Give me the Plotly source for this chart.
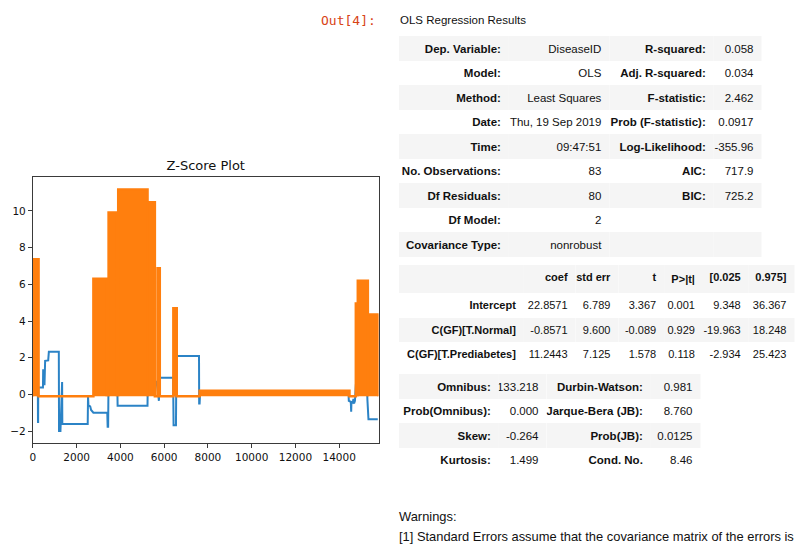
import plotly.graph_objects as go

W, H = 795, 549

# ---------------- Z-score series ----------------
x_ticks = [0, 2000, 4000, 6000, 8000, 10000, 12000, 14000]
x_tick_labels = ["0", "2000", "4000", "6000", "8000", "10000", "12000", "14000"]
y_ticks = [-2, 0, 2, 4, 6, 8, 10]
y_tick_labels = ["\u22122", "0", "2", "4", "6", "8", "10"]

# first z-score series (step trace)
blue_x = [0, 228, 232, 240, 245, 460, 470, 520, 530, 545, 560, 700, 730, 1185,
          1195, 1260, 1336, 1345, 2506, 2520, 2540, 2620, 2660, 2765, 3400,
          3417, 3440, 3455, 3860, 3872, 5239, 5250, 5560, 5575, 5650, 5700,
          5740, 5760, 5800, 6409, 6430, 6540, 6560, 7593, 7600, 7620, 7640,
          14427, 14440, 14530, 14548, 14560, 14620, 14650, 14680, 14720, 14760,
          15270, 15290, 15338, 15763]
blue_y = [0.5, -0.1, -1.5, -1.5, 0.38, 0.38, 1.32, 1.32, 0.5, 1.32, 1.83, 1.85,
          2.32, 2.32, -2.0, -2.0, 0.67, -1.62, -1.62, -0.1, -0.6, -0.65, -0.85,
          -1.0, -1.0, -1.77, -1.77, 0.5, 0.5, -0.62, -0.62, 0.5, 0.5, 0.69, 0.69,
          0.3, -0.35, -0.35, 0.91, 0.91, -1.68, -1.68, 2.09, 2.09, -0.49, -0.49,
          0.0, 0.0, -0.35, -0.4, -0.95, -0.4, -0.45, -0.25, -0.5, -0.35, 0.5,
          0.5, -0.3, -1.36, -1.36]

# second z-score series: level blocks above a common baseline
orange_baseline = -0.1
orange_start = [0, 2765, 3370, 3460, 3840, 3900, 5240, 5700, 6420, 7620, 14760, 14850, 15310]
orange_end = [260, 3370, 3460, 3840, 3900, 5240, 5575, 5800, 6575, 14470, 14850, 15310, 15790]
orange_level = [7.37, 6.30, 6.10, 9.92, 9.80, 11.17, 10.48, 6.87, 4.69, 0.20, 4.96, 6.19, 4.36]
x_last = 15790

# ---------------- OLS summary tables ----------------
model_labels = ["Dep. Variable:", "Model:", "Method:", "Date:", "Time:",
                "No. Observations:", "Df Residuals:", "Df Model:", "Covariance Type:"]
model_values = ["DiseaseID", "OLS", "Least Squares", "Thu, 19 Sep 2019", "09:47:51",
                "83", "80", "2", "nonrobust"]
fit_labels = ["R-squared:", "Adj. R-squared:", "F-statistic:", "Prob (F-statistic):",
              "Log-Likelihood:", "AIC:", "BIC:", "", ""]
fit_values = ["0.058", "0.034", "2.462", "0.0917", "-355.96", "717.9", "725.2", "", ""]

coef_header = ["", "coef", "std err", "t", "P>|t|", "[0.025", "0.975]"]
coef_terms = ["Intercept", "C(GF)[T.Normal]", "C(GF)[T.Prediabetes]"]
coef_est = ["22.8571", "-0.8571", "11.2443"]
coef_se = ["6.789", "9.600", "7.125"]
coef_t = ["3.367", "-0.089", "1.578"]
coef_p = ["0.001", "0.929", "0.118"]
coef_lo = ["9.348", "-19.963", "-2.934"]
coef_hi = ["36.367", "18.248", "25.423"]

diag_labels = ["Omnibus:", "Prob(Omnibus):", "Skew:", "Kurtosis:"]
diag_values = ["133.218", "0.000", "-0.264", "1.499"]
diag_labels2 = ["Durbin-Watson:", "Jarque-Bera (JB):", "Prob(JB):", "Cond. No."]
diag_values2 = ["0.981", "8.760", "0.0125", "8.46"]

BLUE = "#2b83c6"
ORANGE = "#ff7f0e"
STRIPE = "#f5f5f5"
TFONT = "Liberation Sans, Arial, sans-serif"
ROW_H = 24.5

fig = go.Figure()

fig.add_trace(go.Scatter(x=blue_x, y=blue_y, mode="lines",
                         line=dict(color=BLUE, width=2), hoverinfo="skip",
                         showlegend=False))

ox, oy = [0], [orange_baseline]
for s, e, v in zip(orange_start, orange_end, orange_level):
    ox += [s, s, e, e]
    oy += [orange_baseline, v, v, orange_baseline]
ox.append(x_last)
oy.append(orange_baseline)
fig.add_trace(go.Scatter(x=ox, y=oy, mode="lines", fill="toself",
                         fillcolor=ORANGE, line=dict(color=ORANGE, width=2.5),
                         hoverinfo="skip", showlegend=False))


def nb(s):
    # keep each cell on one line
    return s.replace(" ", "\u00a0")


def add_table(columns, left, top, edges, head_weights, cell_weights, size):
    """columns: list of column lists; first entry of each column is the header row."""
    nrows = len(columns[0])
    widths = [edges[0] - left] + [edges[i] - edges[i - 1] for i in range(1, len(edges))]
    # striped rows: header row shaded, then every second row
    fills = [[STRIPE if r % 2 == 0 else "white" for r in range(1, nrows)]
             for _ in columns]
    bottom = top + nrows * ROW_H + 8
    fig.add_trace(go.Table(
        domain=dict(x=[left / W, edges[-1] / W], y=[1 - bottom / H, 1 - top / H]),
        columnwidth=widths,
        header=dict(values=[nb(c[0]) for c in columns], height=ROW_H,
                    align="right", fill_color=STRIPE,
                    line=dict(width=0, color="rgba(0,0,0,0)"),
                    font=dict(family=TFONT, size=size, color="#111",
                              weight=head_weights)),
        cells=dict(values=[[nb(v) for v in c[1:]] for c in columns], height=ROW_H,
                   align="right", fill_color=fills,
                   line=dict(width=0, color="rgba(0,0,0,0)"),
                   font=dict(family=TFONT, size=size, color="#111",
                             weight=cell_weights)),
    ))


add_table([model_labels, model_values, fit_labels, fit_values],
          397, 36, [508, 609, 714, 762],
          ["bold", "normal", "bold", "normal"], ["bold", "normal", "bold", "normal"], 11.5)

add_table([[coef_header[0]] + coef_terms, [coef_header[1]] + coef_est,
           [coef_header[2]] + coef_se, [coef_header[3]] + coef_t,
           [coef_header[4]] + coef_p, [coef_header[5]] + coef_lo,
           [coef_header[6]] + coef_hi],
          397, 265, [523, 575, 618, 664, 703, 749, 795],
          ["bold"] * 7, ["bold"] + ["normal"] * 6, 11)

add_table([diag_labels, diag_values, diag_labels2, diag_values2],
          397, 374, [498, 546, 651, 701],
          ["bold", "normal", "bold", "normal"], ["bold", "normal", "bold", "normal"], 11.5)

annotations = [
    dict(text="Out[4]:", x=376 / W, y=1 - 20 / H, xanchor="right", yanchor="middle",
         font=dict(family="DejaVu Sans Mono, monospace", size=13, color="#d84315")),
    dict(text="OLS Regression Results", x=396 / W, y=1 - 20 / H, xanchor="left",
         yanchor="middle", font=dict(family=TFONT, size=11.5, color="#111")),
    dict(text="Warnings:", x=395 / W, y=1 - 516 / H, xanchor="left", yanchor="middle",
         font=dict(family=TFONT, size=12.9, color="#111")),
    dict(text="[1] Standard Errors assume that the covariance matrix of the errors is correctly specified.",
         x=395 / W, y=1 - 536 / H, xanchor="left", yanchor="middle",
         font=dict(family=TFONT, size=12.9, color="#111")),
]
for a in annotations:
    a.update(xref="paper", yref="paper", showarrow=False)

axis_common = dict(showgrid=False, zeroline=False, showline=True, mirror=True,
                   linecolor="#3a3a3a", linewidth=1, ticks="outside", ticklen=4,
                   tickcolor="#3a3a3a",
                   tickfont=dict(family="DejaVu Sans, sans-serif", size=10.5, color="#111"))

fig.update_layout(
    width=W, height=H, margin=dict(l=0, r=0, t=0, b=0),
    paper_bgcolor="white", plot_bgcolor="white",
    title=dict(text="Z-Score Plot", x=(30 + 377) / 2 / W, xanchor="center",
               y=1 - 165 / H, yanchor="middle", xref="paper", yref="paper",
               font=dict(family="DejaVu Sans, sans-serif", size=13, color="#111")),
    xaxis=dict(domain=[30 / W, 377 / W], range=[0, 15800], tickvals=x_ticks,
               ticktext=x_tick_labels, **axis_common),
    yaxis=dict(domain=[1 - 443 / H, 1 - 177 / H], range=[-2.65, 11.85],
               tickvals=y_ticks, ticktext=y_tick_labels, **axis_common),
    annotations=annotations,
    showlegend=False,
)

fig.write_html("out.html")
